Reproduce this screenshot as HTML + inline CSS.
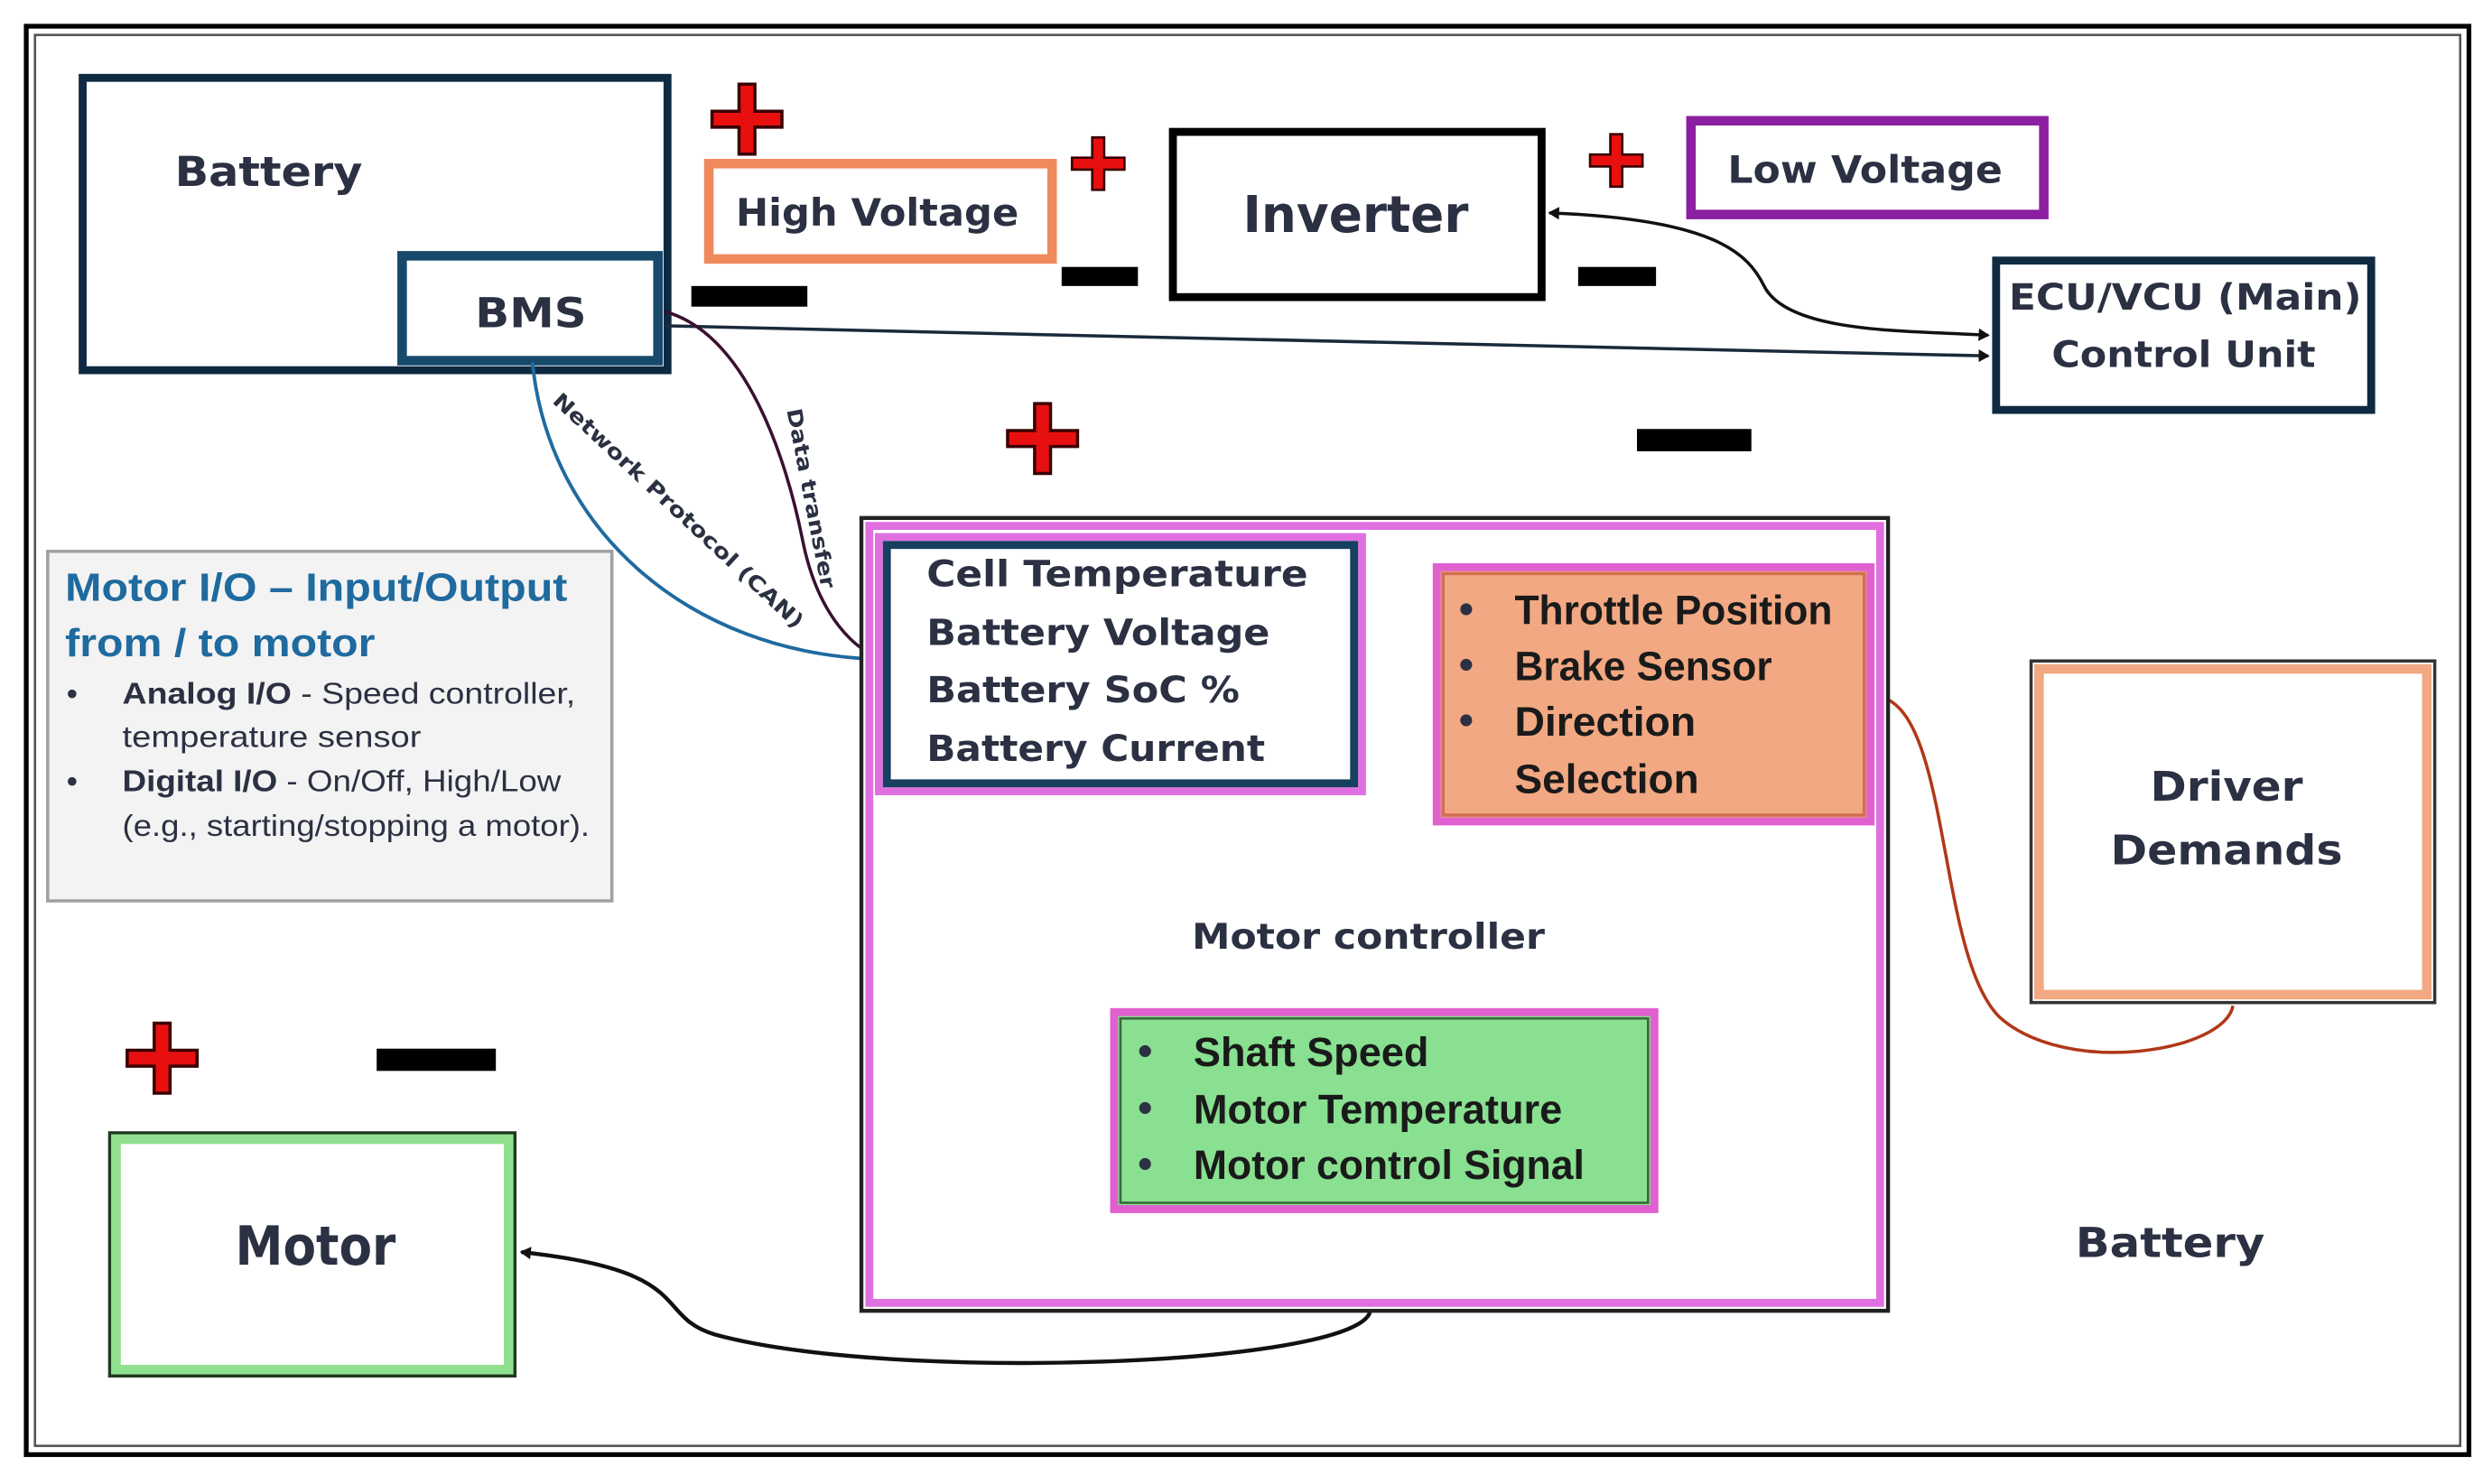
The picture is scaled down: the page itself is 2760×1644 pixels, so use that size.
<!DOCTYPE html>
<html><head><meta charset="utf-8"><style>
html,body{margin:0;padding:0;background:#fff;width:2760px;height:1644px;overflow:hidden}
svg{display:block}
text{font-family:"DejaVu Sans","Liberation Sans",sans-serif;font-weight:bold;fill:#2b3142}
.n{font-family:"Liberation Sans",sans-serif}
</style></head><body>
<svg width="2760" height="1644" viewBox="0 0 1568 934" xmlns="http://www.w3.org/2000/svg">
<defs>
<marker id="ah" markerWidth="8" markerHeight="8" refX="6" refY="4" orient="auto" markerUnits="userSpaceOnUse"><path d="M0,0 L7,4 L0,8 z" fill="#111"/></marker>
<marker id="ahs" markerWidth="8" markerHeight="8" refX="1" refY="4" orient="auto" markerUnits="userSpaceOnUse"><path d="M7,0 L0,4 L7,8 z" fill="#111"/></marker>
<g id="plus"><path d="M-5,-22 h10 v17 h17 v10 h-17 v17 h-10 v-17 h-17 v-10 h17 z" fill="#e8100f" stroke="#3a0000" stroke-width="2"/></g>
</defs>
<rect x="0" y="0" width="1568" height="934" fill="#fff"/>
<rect x="16.5" y="16.5" width="1537" height="899" fill="none" stroke="#000" stroke-width="3"/>
<rect x="22" y="22" width="1526" height="888" fill="none" stroke="#555" stroke-width="1.5"/>

<!-- Battery -->
<rect x="52" y="49" width="368" height="184" fill="#fff" stroke="#0e2a42" stroke-width="5"/>
<text x="110" y="117" font-size="26" textLength="118" lengthAdjust="spacingAndGlyphs">Battery</text>
<rect x="253" y="161" width="161" height="66" fill="#fff" stroke="#17496b" stroke-width="6"/>
<text x="299" y="206" font-size="26" textLength="70" lengthAdjust="spacingAndGlyphs">BMS</text>

<!-- connectors -->
<path d="M418,205 C700,212 1000,218 1251,224" fill="none" stroke="#1a2a3a" stroke-width="2" marker-end="url(#ah)"/>
<path d="M975,134 C1080,138 1100,160 1110,180 C1125,210 1200,208 1251,211" fill="none" stroke="#111" stroke-width="2" marker-end="url(#ah)" marker-start="url(#ahs)"/>
<path d="M335,228 C345,330 430,412 555,415" fill="none" stroke="#1f6aa0" stroke-width="2.2"/>
<path d="M418,196 C470,210 495,290 505,340 C515,390 540,410 555,415" fill="none" stroke="#3a1030" stroke-width="2"/>
<text x="0" y="0" font-size="13" transform="translate(347,253) rotate(43)" textLength="210" lengthAdjust="spacingAndGlyphs">Network Protocol (CAN)</text>
<text x="0" y="0" font-size="13" transform="translate(495,258) rotate(79)" textLength="115" lengthAdjust="spacingAndGlyphs">Data transfer</text>
<path d="M1180,438 C1228,442 1218,600 1258,640 C1300,678 1400,662 1405,633" fill="none" stroke="#b03818" stroke-width="2"/>
<path d="M862,826 C850,860 560,870 450,840 C410,828 440,800 328,788" fill="none" stroke="#111" stroke-width="2.5" marker-end="url(#ah)"/>

<!-- plus/minus -->
<use href="#plus" x="470" y="75"/>
<g transform="translate(691,103) scale(0.75)"><use href="#plus"/></g>
<g transform="translate(1017,101) scale(0.75)"><use href="#plus"/></g>
<use href="#plus" x="656" y="276"/>
<use href="#plus" x="102" y="666"/>
<rect x="435" y="180" width="73" height="13" fill="#000"/>
<rect x="668" y="168" width="48" height="12" fill="#000"/>
<rect x="993" y="168" width="49" height="12" fill="#000"/>
<rect x="1030" y="270" width="72" height="14" fill="#000"/>
<rect x="237" y="660" width="75" height="14" fill="#000"/>

<rect x="446" y="103" width="216" height="60" fill="#fff" stroke="#f08a5d" stroke-width="6"/>
<text x="463" y="142" font-size="24" textLength="178" lengthAdjust="spacingAndGlyphs">High Voltage</text>
<rect x="738" y="83" width="232" height="104" fill="#fff" stroke="#000" stroke-width="5"/>
<text x="782" y="146" font-size="32" textLength="142" lengthAdjust="spacingAndGlyphs">Inverter</text>
<rect x="1064" y="76" width="222" height="59" fill="#fff" stroke="#8b1fa0" stroke-width="6"/>
<text x="1087" y="115" font-size="24" textLength="173" lengthAdjust="spacingAndGlyphs">Low Voltage</text>
<rect x="1256" y="164" width="236" height="94" fill="#fff" stroke="#0e2a42" stroke-width="5"/>
<text x="1264" y="195" font-size="23" textLength="222" lengthAdjust="spacingAndGlyphs">ECU/VCU (Main)</text>
<text x="1291" y="231" font-size="23" textLength="166" lengthAdjust="spacingAndGlyphs">Control Unit</text>

<!-- Motor I/O -->
<rect x="30" y="347" width="355" height="220" fill="#f3f3f3" stroke="#a0a0a0" stroke-width="2"/>
<text class="n" x="41" y="378" font-size="25" style="fill:#1f6a9e" textLength="316" lengthAdjust="spacingAndGlyphs">Motor I/O – Input/Output</text>
<text class="n" x="41" y="413" font-size="25" style="fill:#1f6a9e" textLength="195" lengthAdjust="spacingAndGlyphs">from / to motor</text>
<text class="n" x="42" y="443" font-size="19">•</text>
<text class="n" x="77" y="443" font-size="19" textLength="285" lengthAdjust="spacingAndGlyphs">Analog I/O<tspan style="font-weight:normal"> - Speed controller,</tspan></text>
<text class="n" x="77" y="470" font-size="19" style="font-weight:normal" textLength="188" lengthAdjust="spacingAndGlyphs">temperature sensor</text>
<text class="n" x="42" y="498" font-size="19">•</text>
<text class="n" x="77" y="498" font-size="19" textLength="276" lengthAdjust="spacingAndGlyphs">Digital I/O<tspan style="font-weight:normal"> - On/Off, High/Low</tspan></text>
<text class="n" x="77" y="526" font-size="19" style="font-weight:normal" textLength="294" lengthAdjust="spacingAndGlyphs">(e.g., starting/stopping a motor).</text>

<!-- Motor controller -->
<rect x="542" y="326" width="646" height="499" fill="#fff" stroke="#222" stroke-width="2.5"/>
<rect x="547" y="331" width="636" height="489" fill="none" stroke="#e070e0" stroke-width="5"/>
<text x="750" y="597" font-size="22" textLength="222" lengthAdjust="spacingAndGlyphs">Motor controller</text>

<rect x="553" y="338" width="304" height="160" fill="#fff" stroke="#e070e0" stroke-width="5"/>
<rect x="558" y="343" width="294" height="150" fill="#fff" stroke="#17405f" stroke-width="5"/>
<text x="583" y="369" font-size="23" textLength="240" lengthAdjust="spacingAndGlyphs">Cell Temperature</text>
<text x="583" y="406" font-size="23" textLength="216" lengthAdjust="spacingAndGlyphs">Battery Voltage</text>
<text x="583" y="442" font-size="23" textLength="197" lengthAdjust="spacingAndGlyphs">Battery SoC %</text>
<text x="583" y="479" font-size="23" textLength="213" lengthAdjust="spacingAndGlyphs">Battery Current</text>

<rect x="904" y="357" width="273" height="160" fill="#f2a882" stroke="#e060d0" stroke-width="5"/>
<rect x="908" y="361" width="265" height="152" fill="none" stroke="#d07050" stroke-width="2"/>
<text class="n" x="918" y="392" font-size="26">•</text><text class="n" x="953" y="393" font-size="26" style="fill:#1a1a1a" textLength="200" lengthAdjust="spacingAndGlyphs">Throttle Position</text>
<text class="n" x="918" y="427" font-size="26">•</text><text class="n" x="953" y="428" font-size="26" style="fill:#1a1a1a" textLength="162" lengthAdjust="spacingAndGlyphs">Brake Sensor</text>
<text class="n" x="918" y="462" font-size="26">•</text><text class="n" x="953" y="463" font-size="26" style="fill:#1a1a1a" textLength="114" lengthAdjust="spacingAndGlyphs">Direction</text>
<text class="n" x="953" y="499" font-size="26" style="fill:#1a1a1a" textLength="116" lengthAdjust="spacingAndGlyphs">Selection</text>

<rect x="701" y="637" width="340" height="124" fill="#88e090" stroke="#e060d0" stroke-width="5"/>
<rect x="705" y="641" width="332" height="116" fill="none" stroke="#3a6a3a" stroke-width="1.5"/>
<text class="n" x="716" y="670" font-size="26">•</text><text class="n" x="751" y="671" font-size="26" style="fill:#1a1a1a" textLength="148" lengthAdjust="spacingAndGlyphs">Shaft Speed</text>
<text class="n" x="716" y="706" font-size="26">•</text><text class="n" x="751" y="707" font-size="26" style="fill:#1a1a1a" textLength="232" lengthAdjust="spacingAndGlyphs">Motor Temperature</text>
<text class="n" x="716" y="741" font-size="26">•</text><text class="n" x="751" y="742" font-size="26" style="fill:#1a1a1a" textLength="246" lengthAdjust="spacingAndGlyphs">Motor control Signal</text>

<!-- Driver demands -->
<rect x="1278" y="416" width="254" height="215" fill="#fff" stroke="#333" stroke-width="2"/>
<rect x="1283" y="421" width="244" height="205" fill="none" stroke="#f2a882" stroke-width="6"/>
<text x="1353" y="504" font-size="26" textLength="96" lengthAdjust="spacingAndGlyphs">Driver</text>
<text x="1328" y="544" font-size="26" textLength="146" lengthAdjust="spacingAndGlyphs">Demands</text>
<text x="1306" y="791" font-size="26" textLength="119" lengthAdjust="spacingAndGlyphs">Battery</text>

<!-- Motor -->
<rect x="69" y="713" width="255" height="153" fill="#fff" stroke="#1e3a1e" stroke-width="2"/>
<rect x="73" y="717" width="247" height="145" fill="none" stroke="#90e090" stroke-width="6"/>
<text x="148" y="796" font-size="34" textLength="101" lengthAdjust="spacingAndGlyphs">Motor</text>
</svg>
</body></html>
